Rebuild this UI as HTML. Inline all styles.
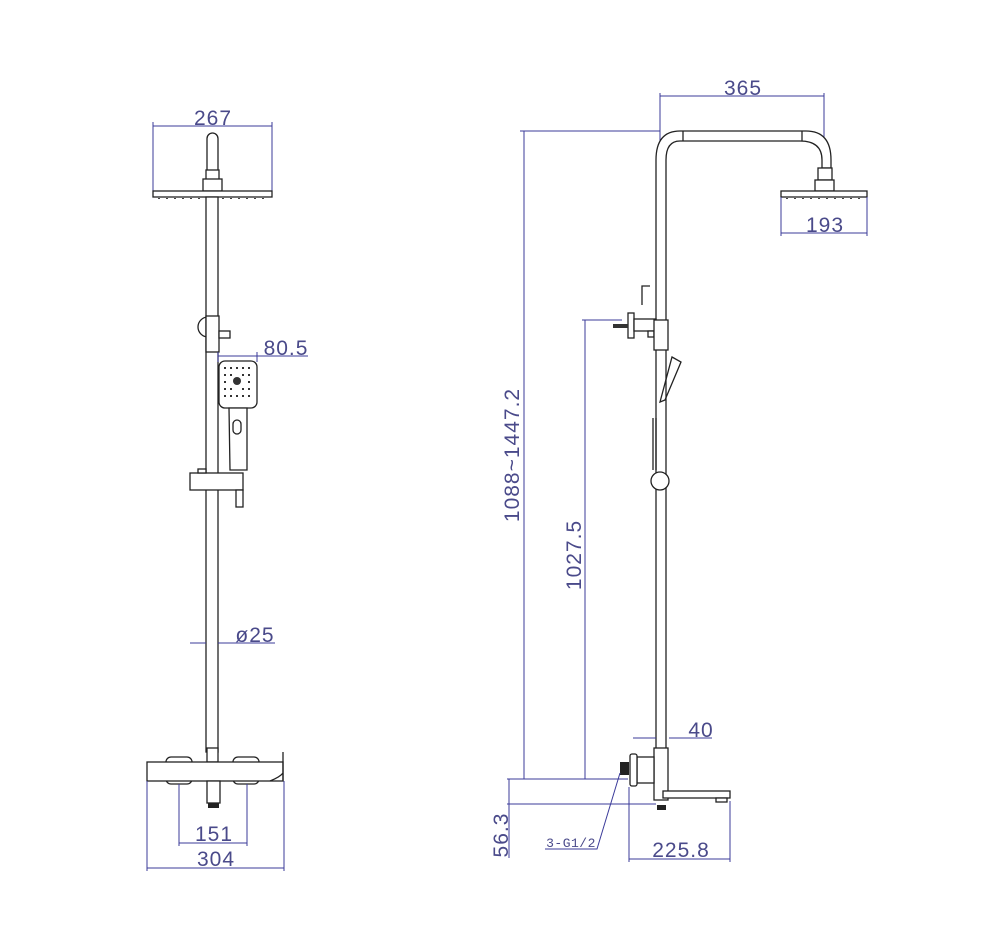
<!DOCTYPE html>
<html><head><meta charset="utf-8"><style>
html,body{margin:0;padding:0;background:#fff;}
svg{display:block}
.k{stroke:#222;stroke-width:1.3;fill:#fff}
.kn{stroke:#222;stroke-width:1.3;fill:none}
.b{stroke:#3b3b9a;stroke-width:1;fill:none}
.t{font-family:"Liberation Sans",sans-serif;font-size:21px;letter-spacing:1px;fill:#4a4a8a;}
</style></head><body>
<svg width="1000" height="943" viewBox="0 0 1000 943" xmlns="http://www.w3.org/2000/svg">
<!-- LEFT VIEW -->
<path class="b" d="M153 126H272M153 122V191M272 122V191"/>
<text class="t" x="213" y="125" text-anchor="middle">267</text>
<rect class="k" x="207" y="133" width="11" height="44" rx="5.5"/>
<rect class="k" x="206" y="170" width="13" height="10"/>
<rect class="k" x="203" y="179" width="19" height="12"/>
<rect class="k" x="153" y="191" width="119" height="6"/>
<path stroke="#444" stroke-width="1" stroke-dasharray="2 6" d="M158 198.5H268"/>
<rect class="k" x="206" y="197" width="12" height="555"/>
<circle class="kn" cx="208" cy="327" r="10"/>
<rect class="k" x="206" y="316" width="13" height="36"/>
<rect class="k" x="219" y="331" width="11" height="7"/>
<path class="b" d="M218 356H308M218 352V362M257 352V362"/>
<text class="t" x="286" y="355" text-anchor="middle">80.5</text>
<rect class="k" x="219" y="361" width="38" height="47" rx="6"/>
<g fill="#333">
<path d="M224 367h2v2h-2zM230 367h2v2h-2zM236 367h2v2h-2zM242 367h2v2h-2zM248 367h2v2h-2zM224 374h2v2h-2zM248 374h2v2h-2zM224 381h2v2h-2zM248 381h2v2h-2zM224 388h2v2h-2zM248 388h2v2h-2zM224 395h2v2h-2zM230 395h2v2h-2zM236 395h2v2h-2zM242 395h2v2h-2zM248 395h2v2h-2zM230 374h2v2h-2zM242 374h2v2h-2zM230 388h2v2h-2zM242 388h2v2h-2z"/>
<circle cx="237" cy="381" r="4"/>
</g>
<path class="k" d="M229 408H247V470H230Z"/>
<rect class="kn" x="233" y="420" width="8" height="14" rx="4"/>
<rect class="k" x="190" y="473" width="53" height="17"/>
<rect class="k" x="198" y="469" width="8" height="4"/>
<rect class="k" x="236" y="490" width="7" height="17"/>
<path class="b" d="M190 643H206M218 643H275"/>
<text class="t" x="255" y="642" text-anchor="middle">ø25</text>
<rect class="k" x="207" y="748" width="11" height="14"/>
<rect class="k" x="166" y="757" width="26" height="27" rx="5"/>
<rect class="k" x="233" y="757" width="26" height="27" rx="5"/>
<rect class="k" x="147" y="762" width="136" height="19"/>
<path class="kn" d="M283 752V781M270 781q10 -4 13 -8"/>
<rect class="k" x="207" y="781" width="13" height="22"/>
<rect x="208" y="803" width="11" height="5" fill="#222"/>
<path class="b" d="M179 784V846M247 784V846M179 843H247"/>
<text class="t" x="214" y="841" text-anchor="middle">151</text>
<path class="b" d="M147 781V871M284 781V871M147 868H284"/>
<text class="t" x="216" y="866" text-anchor="middle">304</text>

<!-- RIGHT VIEW -->
<path class="b" d="M660 93V160M824 93V160M660 96H824"/>
<text class="t" x="743" y="95" text-anchor="middle">365</text>
<path class="k" d="M656 160V765H666V160Q666 141 680 141H800Q822 141 822 160V168H831V160Q831 131 806 131H680Q656 131 656 160Z"/>
<path class="kn" d="M683 131V141M802 131V141"/>
<rect class="k" x="818" y="168" width="14" height="12"/>
<rect class="k" x="815" y="180" width="19" height="11"/>
<rect class="k" x="781" y="191" width="86" height="6"/>
<path stroke="#444" stroke-width="1" stroke-dasharray="2 6" d="M786 198.5H864"/>
<path class="b" d="M781 197V236M867 197V236M781 233H867"/>
<text class="t" x="825" y="232" text-anchor="middle">193</text>
<path class="b" d="M520 131H660M524 131V779"/>
<text class="t" transform="translate(519 455) rotate(-90)" text-anchor="middle">1088~1447.2</text>
<path class="b" d="M582 320H622M585 320V779"/>
<text class="t" transform="translate(581 555) rotate(-90)" text-anchor="middle">1027.5</text>
<path class="kn" d="M642 305V286H650" stroke-width="2"/>
<rect class="k" x="628" y="313" width="6" height="25"/>
<rect x="613" y="324" width="15" height="4" fill="#333"/>
<rect class="k" x="634" y="319" width="22" height="12"/>
<rect class="k" x="648" y="331" width="6" height="6"/>
<rect class="k" x="654" y="320" width="14" height="30"/>
<path class="kn" d="M672 357L681 362L665 400L660 402Z"/>
<path class="kn" d="M653 418V470M656 418V470"/>
<circle class="k" cx="660" cy="481" r="9"/>
<path class="b" d="M633 738H656M669 738H712"/>
<text class="t" x="701" y="737" text-anchor="middle">40</text>
<rect class="k" x="654" y="748" width="14" height="52"/>
<rect class="k" x="637" y="757" width="17" height="26"/>
<rect class="k" x="630" y="754" width="7" height="32" rx="2"/>
<rect x="620" y="762" width="9" height="13" fill="#222"/>
<rect class="k" x="663" y="791" width="67" height="7"/>
<rect class="k" x="716" y="798" width="11" height="4"/>
<rect x="657" y="805" width="9" height="5" fill="#222"/>
<path class="b" d="M507 779H628M507 804H656M509 779V858"/>
<text class="t" transform="translate(508 835) rotate(-90)" text-anchor="middle">56.3</text>
<path class="b" d="M629 787V862M730 801V862M629 859H730"/>
<text class="t" x="681" y="857" text-anchor="middle">225.8</text>
<path class="b" d="M620 773L597 849H545"/>
<text x="571" y="847" text-anchor="middle" style="font-family:'Liberation Mono',monospace;font-size:13px;letter-spacing:0.5px;fill:#4a4a8a">3-G1/2</text>
</svg>
</body></html>
